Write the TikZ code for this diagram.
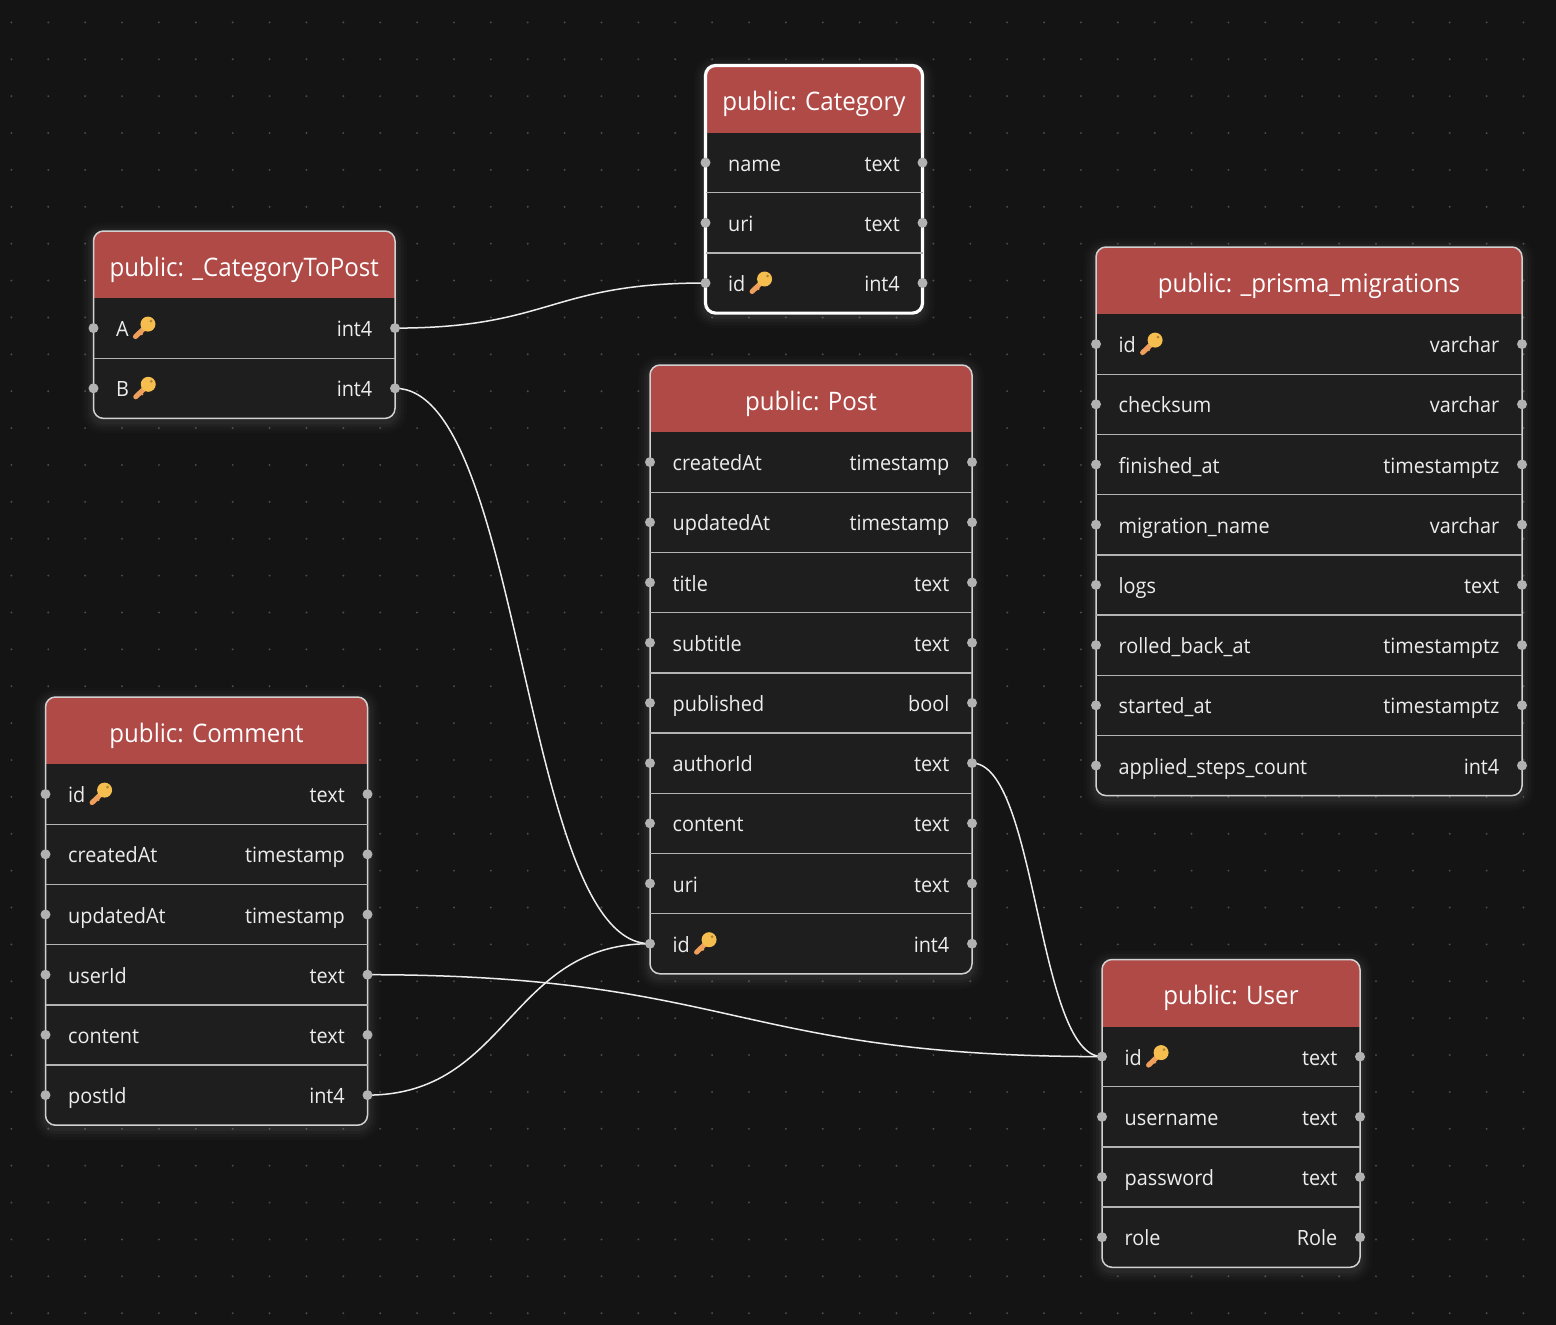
\documentclass[tikz,border=0pt]{standalone}
\usepackage{fontspec}
\setmainfont[FakeStretch=0.945]{Open Sans}
\usetikzlibrary{calc}
\definecolor{bgc}{HTML}{141414}
\definecolor{bodyc}{HTML}{1E1E1E}
\definecolor{headc}{HTML}{B04A47}
\definecolor{sepc}{HTML}{B4B4B4}
\definecolor{borderc}{HTML}{D2D2D2}
\definecolor{handlec}{HTML}{B2B2B2}
\definecolor{dotc}{HTML}{4A4A4A}
\definecolor{txtc}{HTML}{EDEDED}
\definecolor{keyh}{HTML}{F5BE4E}
\definecolor{keys}{HTML}{EE9F5C}
\pgfdeclarelayer{edges}\pgfdeclarelayer{top}
\pgfsetlayers{main,edges,top}
\tikzset{
  x=1pt,y=-1pt,
  handle/.style={circle,fill=handlec,draw=none,minimum size=10pt,inner sep=0pt},
  field/.style={text=txtc,inner sep=0pt,font=\fontsize{21}{24}\selectfont},
  title/.style={text=white,inner sep=0pt,font=\fontsize{25.5}{30}\selectfont},
  sepline/.style={draw=sepc,line width=1.4pt},
  link/.style={draw=txtc,line width=1.5pt,line cap=round},
  pkey/.pic={
    \draw[keys,line width=5pt,line cap=round] (2.5,8.5) -- (13,-1.5);
    \draw[keys,line width=2pt] (7,4) -- (9.5,6.5);
    \fill[keyh] (15,-4) circle (7.5);
    \fill[keyh!70!black] (18,-7) circle (1.5);
  }
}
% #1 id, #2 x0, #3 y0, #4 x1, #5 title, #6 rows, #7 number of rows, #8 border width, #9 border colour
\newcommand{\dbtable}[9]{
  \pgfmathsetmacro\yend{#3+67+#7*60.2}
  \pgfmathsetmacro\cx{(#2+#4)/2}
  \pgfmathsetmacro\hy{#3+67}
  \foreach \w/\o in {24/.014,18/.018,12/.026,6/.036}
    \draw[white,opacity=\o,line width=\w pt,rounded corners=10pt] (#2,#3+3) rectangle (#4,\yend+3);
  \fill[bodyc,rounded corners=10pt] (#2,#3) rectangle (#4,\yend);
  \begin{scope}
    \clip[rounded corners=10pt] (#2,#3) rectangle (#4,\yend);
    \fill[headc] (#2,#3) rectangle (#4,\hy);
  \end{scope}
  \draw[#9,line width=#8pt,rounded corners=10pt] (#2,#3) rectangle (#4,\yend);
  \node[title,anchor=base] (#1-title) at (\cx,#3+45) {#5};
  \foreach \fn/\ft/\fk [count=\i] in {#6}{
    \pgfmathsetmacro\ry{#3+67+(\i-.5)*60.2}
    \pgfmathsetmacro\sy{#3+67+\i*60.2}
    \ifnum\i<#7 \draw[sepline] (#2,\sy) -- (#4,\sy);\fi
    \node[field,anchor=base west] (#1-name-\i) at (#2+22.5,\ry+8.6) {\fn};
    \node[field,anchor=base east] (#1-type-\i) at (#4-22.5,\ry+8.6) {\ft};
    \if\fk k\path (#1-name-\i.base east) ++(4,-8.6) pic {pkey};\fi
    \begin{pgfonlayer}{top}
      \node[handle] (#1-\i-l) at (#2,\ry) {};
      \node[handle] (#1-\i-r) at (#4,\ry) {};
    \end{pgfonlayer}
  }
}
\begin{document}
\begin{tikzpicture}
\useasboundingbox (0,0) rectangle (1556,1325);
\fill[bgc] (0,0) rectangle (1556,1325);
\foreach \ix in {0,...,42}\foreach \iy in {0,...,35}
  \fill[dotc] (11.4+36.88*\ix,22.4+36.88*\iy) circle (1.1);
\dbtable{cat}{705.5}{65.5}{922.5}{public: Category}{name/text/n,uri/text/n,id/int4/k}{3}{3.2}{white}
\dbtable{ctp}{93.5}{231}{395}{public: \_CategoryToPost}{A/int4/k,B/int4/k}{2}{1.5}{borderc}
\dbtable{pri}{1096}{247}{1522}{public: \_prisma\_migrations}{id/varchar/k,checksum/varchar/n,finished\_at/timestamptz/n,migration\_name/varchar/n,logs/text/n,rolled\_back\_at/timestamptz/n,started\_at/timestamptz/n,applied\_steps\_count/int4/n}{8}{1.5}{borderc}
\dbtable{pos}{650}{365}{972}{public: Post}{createdAt/timestamp/n,updatedAt/timestamp/n,title/text/n,subtitle/text/n,published/bool/n,authorId/text/n,content/text/n,uri/text/n,id/int4/k}{9}{1.5}{borderc}
\dbtable{com}{45.5}{697}{367.5}{public: Comment}{id/text/k,createdAt/timestamp/n,updatedAt/timestamp/n,userId/text/n,content/text/n,postId/int4/n}{6}{1.5}{borderc}
\dbtable{usr}{1102}{959.5}{1360}{public: User}{id/text/k,username/text/n,password/text/n,role/Role/n}{4}{1.5}{borderc}
\begin{pgfonlayer}{edges}
  \draw[link] (ctp-1-r.center) .. controls +(156,0) and +(-156,0) .. (cat-3-l.center);
  \draw[link] (ctp-2-r.center) .. controls +(128,0) and +(-128,0) .. (pos-9-l.center);
  \draw[link] (pos-6-r.center) .. controls +(65,0) and +(-65,0) .. (usr-1-l.center);
  \draw[link] (com-4-r.center) .. controls +(367,0) and +(-367,0) .. (usr-1-l.center);
  \draw[link] (com-6-r.center) .. controls +(141,0) and +(-141,0) .. (pos-9-l.center);
\end{pgfonlayer}
\end{tikzpicture}
\end{document}
